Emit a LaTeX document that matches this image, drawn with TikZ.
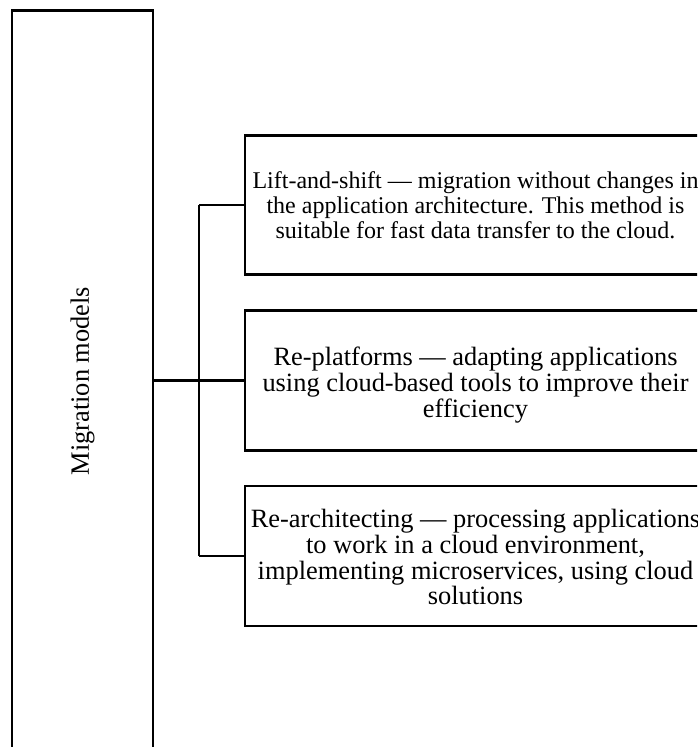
\documentclass[tikz,border=0pt]{standalone}
\usepackage{fontspec}
\setmainfont{Liberation Serif}
\newcommand\lowtext[2]{\raisebox{-#1}[\height][\depth]{\begin{tabular}{@{}c@{}}#2\end{tabular}}}
\begin{document}
\begin{tikzpicture}[x=1pt,y=-1pt,
  box/.style={draw=black,line width=2.5pt,rectangle,inner sep=0pt,
    font=\fontsize{26.4}{24.5}\selectfont},
  smallbox/.style={box,font=\fontsize{24}{25}\selectfont},
  conn/.style={draw=black,line width=2.3pt}]
\useasboundingbox (0,0) rectangle (697,747);
\clip (0,0) rectangle (697,747);
\node[box,minimum width=141pt,minimum height=741pt] (mm) at (82.5,381)
  {\rotatebox{90}{Migration models}};
\node[smallbox,minimum width=461pt,minimum height=139pt] (b1) at (475.5,205)
  {\lowtext{3pt}{Lift-and-shift — migration without changes in\\the application architecture. This method is\\suitable for fast data transfer to the cloud.}};
\node[box,minimum width=461pt,minimum height=140pt] (b2) at (475.5,380.5)
  {\lowtext{5.5pt}{Re-platforms — adapting applications\\using cloud-based tools to improve their\\efficiency}};
\node[box,minimum width=461pt,minimum height=140pt] (b3) at (475.5,556)
  {\lowtext{5pt}{Re-architecting — processing applications\\to work in a cloud environment,\\implementing microservices, using cloud\\solutions}};
\coordinate (j) at (199,380.5);
\draw[conn] (mm.east |- j) -- (j);
\draw[conn] (j |- b1.west) -- (j |- b3.west);
\draw[conn] (j |- b1.west) -- (b1.west);
\draw[conn] (j) -- (b2.west);
\draw[conn] (j |- b3.west) -- (b3.west);
\end{tikzpicture}
\end{document}
